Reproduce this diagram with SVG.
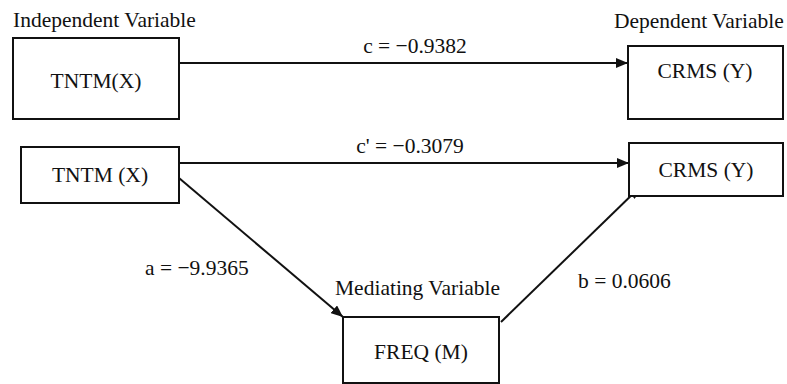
<svg xmlns="http://www.w3.org/2000/svg" width="787" height="384" viewBox="0 0 787 384">
<style>
text{font-family:"Liberation Serif","Times New Roman",serif;font-size:21.5px;fill:#111}
.box{fill:#fff;stroke:#111;stroke-width:2}
.ln{stroke:#111;stroke-width:2;fill:none}
.mid{text-anchor:middle}
</style>
<defs>
<marker id="ah" viewBox="0 0 12 10" refX="12" refY="5" markerWidth="12" markerHeight="10" markerUnits="userSpaceOnUse" orient="auto">
<path d="M0,0 L12,5 L0,10 Z" fill="#111"/>
</marker>
</defs>
<rect width="787" height="384" fill="#fff"/>
<g id="connectors">
<line class="ln" x1="179" y1="63" x2="628" y2="63" marker-end="url(#ah)"/>
<line class="ln" x1="179" y1="163" x2="629" y2="163" marker-end="url(#ah)"/>
<line class="ln" x1="179" y1="178" x2="343" y2="317" marker-end="url(#ah)"/>
<line class="ln" x1="501" y1="322" x2="640" y2="187" marker-end="url(#ah)"/>
<text class="mid" x="415" y="53">c = −0.9382</text>
<text class="mid" x="410" y="153">c' = −0.3079</text>
<text x="145" y="275">a = −9.9365</text>
<text x="578" y="288">b = 0.0606</text>
</g>
<g id="x1">
<text x="13" y="27">Independent Variable</text>
<rect class="box" x="13" y="38" width="166" height="81"/>
<text class="mid" x="96" y="88">TNTM(X)</text>
</g>
<g id="y1">
<text x="614" y="28">Dependent Variable</text>
<rect class="box" x="628" y="46" width="155" height="73"/>
<text class="mid" x="705" y="78">CRMS (Y)</text>
</g>
<g id="x2">
<rect class="box" x="21" y="147" width="158" height="56"/>
<text class="mid" x="100" y="182">TNTM (X)</text>
</g>
<g id="y2">
<rect class="box" x="629" y="143" width="154" height="53"/>
<text class="mid" x="706" y="177">CRMS (Y)</text>
</g>
<g id="m">
<text x="335" y="295">Mediating Variable</text>
<rect class="box" x="343" y="317" width="156" height="66"/>
<text class="mid" x="421" y="359">FREQ (M)</text>
</g>
</svg>
